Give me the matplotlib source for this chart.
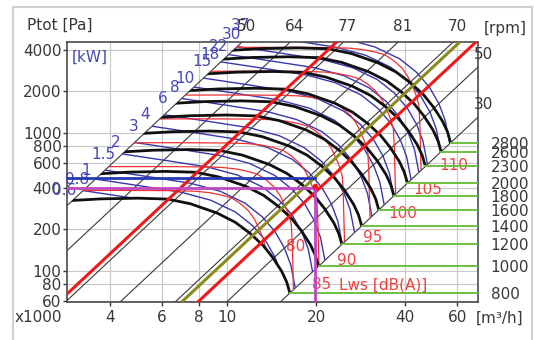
import numpy as np
import matplotlib
matplotlib.use('Agg')
import matplotlib.pyplot as plt
from matplotlib.patches import Polygon
from matplotlib.lines import Line2D
from matplotlib.ticker import NullLocator

# fan curve at 800 rpm (Q in 1000 m3/h, p in Pa)
fan_q = [2.6, 2.89, 3.73, 4.98, 6.28, 7.51, 9.25, 10.64, 11.95, 13.22, 14.26, 15.3, 15.9, 16.3, 16.6]
fan_p = [318, 322, 332, 336, 331, 306, 262, 225, 187, 153, 125, 99, 83, 69, 58]
rpm = [800, 1000, 1200, 1400, 1600, 1800, 2000, 2300, 2600, 2800]

# 1 kW power line
pw_q = [3.59, 3.88, 5.5, 7.51, 9.47, 11.5, 13.12, 14.5, 15.63, 16.42, 17.0, 17.2]
pw_p = [544, 535, 478, 431, 377, 309, 247, 193, 146, 110, 75, 61]
kw = [0.6, 0.8, 1, 1.5, 2, 3, 4, 6, 8, 10, 15, 18, 22, 30, 37]

# 90 dB(A) noise line
lw_q = [4.0, 5.0, 6.5, 8.0, 10.0, 11.7, 13.0, 14.2, 15.4, 16.5, 17.6, 18.4, 19.0, 19.6, 20.1, 20.25, 20.35, 20.45, 20.6]
lw_p = [845, 846, 847, 846, 843, 835, 815, 785, 748, 680, 601, 525, 455, 390, 325, 240, 163, 110, 70]
lws = [80, 85, 90, 95, 100, 105, 110]

# system lines p = k*Q^2 and efficiency labels
k_stall, k_free = 36, 0.26
sys_k = [0.6, 1.34, 3.16, 7.4, 17]
top_k = [36, 17, 7.4, 3.16, 1.34]
top_eff = ['50', '64', '77', '81', '70']
side_k = [0.6, 0.26]
side_eff = ['50', '30']
red_k = [8.25, 0.94]
olive_k = 1.21

# operating point
q_op = 19.9
p_stat = 400
p_tot = 470

xlim = (2.87, 70.6)
ylim = (59.5, 4540)
txt = '#383838'
blue_txt = '#4646b4'
red_txt = '#f04040'

fig = plt.figure(figsize=(5.34, 3.40), dpi=100)
ax = fig.add_axes([67/534, 38/340, 411/534, 260/340])
ax.set_xscale('log')
ax.set_yscale('log')
ax.set_xlim(xlim)
ax.set_ylim(ylim)

xt = [4, 6, 8, 10, 20, 40, 60]
yt = [60, 80, 100, 200, 400, 600, 800, 1000, 2000, 4000]
ax.xaxis.set_minor_locator(NullLocator())
ax.yaxis.set_minor_locator(NullLocator())
ax.set_xticks(xt)
ax.set_xticklabels([str(v) for v in xt])
ax.set_yticks(yt)
ax.set_yticklabels([str(v) for v in yt])
ax.tick_params(labelsize=11, colors=txt, length=3, width=1)
ax.tick_params(axis='y', pad=1)
ax.tick_params(axis='x', pad=3)
ax.grid(True, color='#c8c8c8', lw=0.8, zorder=0)
ax.set_axisbelow(True)
for s in ax.spines.values():
    s.set_color('#4a4a4a')
    s.set_linewidth(1.2)

# clip regions: between stall and free-blow lines, and the same above the 800 rpm curve
end_q, end_p = fan_q[-2], fan_p[-2]
clip_a = Polygon([(0.1, k_stall*0.01), (1e3, k_stall*1e6), (1e3, k_free*1e6), (0.1, k_free*0.01)],
                 closed=True, transform=ax.transData)
q0 = 3.0
for _ in range(6):
    q0 = np.sqrt(np.interp(q0, fan_q, fan_p) / k_stall)
floor = [(q, p) for q, p in zip(fan_q, fan_p) if q0 < q <= end_q]
clip_b = Polygon([(q0, k_stall*q0**2), (1e3, k_stall*1e6), (1e3, k_free*1e6)] + floor[::-1],
                 closed=True, transform=ax.transData)

qq = np.array([1.0, 300.0])
# thin system lines
for k in sys_k + [k_stall, k_free]:
    ax.plot(qq, k*qq**2, color='#3a3a3a', lw=0.8, zorder=1)

# power lines
for P in kw:
    lam = P**(1/3)
    ln, = ax.plot(np.array(pw_q)*lam, np.array(pw_p)*lam**2, color='#3838ac', lw=1.0, zorder=2)
    ln.set_clip_path(clip_b)
    ax.annotate('%g' % P, (pw_q[1]*lam, pw_p[1]*lam**2), xytext=(-14, 0), textcoords='offset points',
                ha='center', va='center', color=blue_txt, fontsize=11, annotation_clip=False)

# noise lines
for L in lws:
    lam = 1.22**((L - 90)/5)
    ln, = ax.plot(np.array(lw_q)*lam, np.array(lw_p)*lam**2, color='#f03030', lw=0.9, zorder=2.2)
    ln.set_clip_path(clip_b)
    qe, pe = lw_q[17]*lam, lw_p[17]*lam**2
    pe = max(pe, np.interp(qe, fan_q, fan_p))
    ax.annotate(str(L), (qe, pe), xytext=(13, 3), textcoords='offset points',
                ha='left', va='center', color=red_txt, fontsize=11)

# fan curves and rpm lines
green_p = []
for n in rpm:
    lam = n/800
    ln, = ax.plot(np.array(fan_q)*lam, np.array(fan_p)*lam**2, color='#101010', lw=2.0, zorder=2.5)
    ln.set_clip_path(clip_a)
    qe, pe = end_q*lam, end_p*lam**2
    green_p.append(pe)
    ax.plot([qe, 300], [pe, pe], color='#6cc040', lw=1.4, zorder=3)

# thick system lines
for k in red_k:
    ax.plot(qq, k*qq**2, color='#f01818', lw=2.2, zorder=3.5)
ax.plot(qq, olive_k*qq**2, color='#8a8a1e', lw=2.2, zorder=3.4)

# efficiency labels
for k, e in zip(top_k, top_eff):
    ax.annotate(e, (np.sqrt(ylim[1]/k), ylim[1]), xytext=(3, 6), textcoords='offset points',
                ha='center', va='bottom', color=txt, fontsize=11, annotation_clip=False)
for k, e in zip(side_k, side_eff):
    ax.annotate(e, (xlim[1], k*xlim[1]**2), xytext=(4, 9), textcoords='offset points',
                ha='center', va='center', color=txt, fontsize=11, annotation_clip=False)

# operating point
ax.plot([1, q_op], [p_tot, p_tot], color='#2838b0', lw=2.0, zorder=4)
ax.plot([1, q_op, q_op], [p_stat, p_stat, 50], color='#c048c0', lw=2.0, zorder=4.1)
ax.plot([q_op], [p_stat*1.03], 'o', color='#f01818', ms=3, zorder=4.2)

# rpm axis on the right
ax2 = ax.twinx()
ax2.set_yscale('log')
ax2.set_ylim(ylim)
ax2.yaxis.set_minor_locator(NullLocator())
ax2.set_yticks(green_p)
ax2.set_yticklabels([str(n) for n in rpm])
ax2.tick_params(labelsize=11, colors=txt, length=0, pad=9)
for s in ax2.spines.values():
    s.set_visible(False)

fig.text(27/534, 1 - 25/340, 'Ptot [Pa]', color=txt, fontsize=11, va='center')
fig.text(72/534, 1 - 57/340, '[kW]', color=blue_txt, fontsize=11, va='center')
fig.text(38/534, 1 - 318/340, 'x1000', color=txt, fontsize=11, ha='center', va='center')
fig.text(500/534, 1 - 318/340, '[m³/h]', color=txt, fontsize=11, ha='center', va='center')
fig.text(505/534, 1 - 28/340, '[rpm]', color=txt, fontsize=11, ha='center', va='center')
fig.text(383/534, 1 - 285/340, 'Lws [dB(A)]', color=red_txt, fontsize=11, ha='center', va='center')

# outer frame
for xs, ys in [([13, 13], [0, 333]), ([13, 532], [333, 333]), ([532, 532], [0, 333])]:
    fig.add_artist(Line2D([x/534 for x in xs], [y/340 for y in ys], transform=fig.transFigure,
                          color='#d0d0d0', lw=1.5))

fig.savefig('out.png', dpi=100)
